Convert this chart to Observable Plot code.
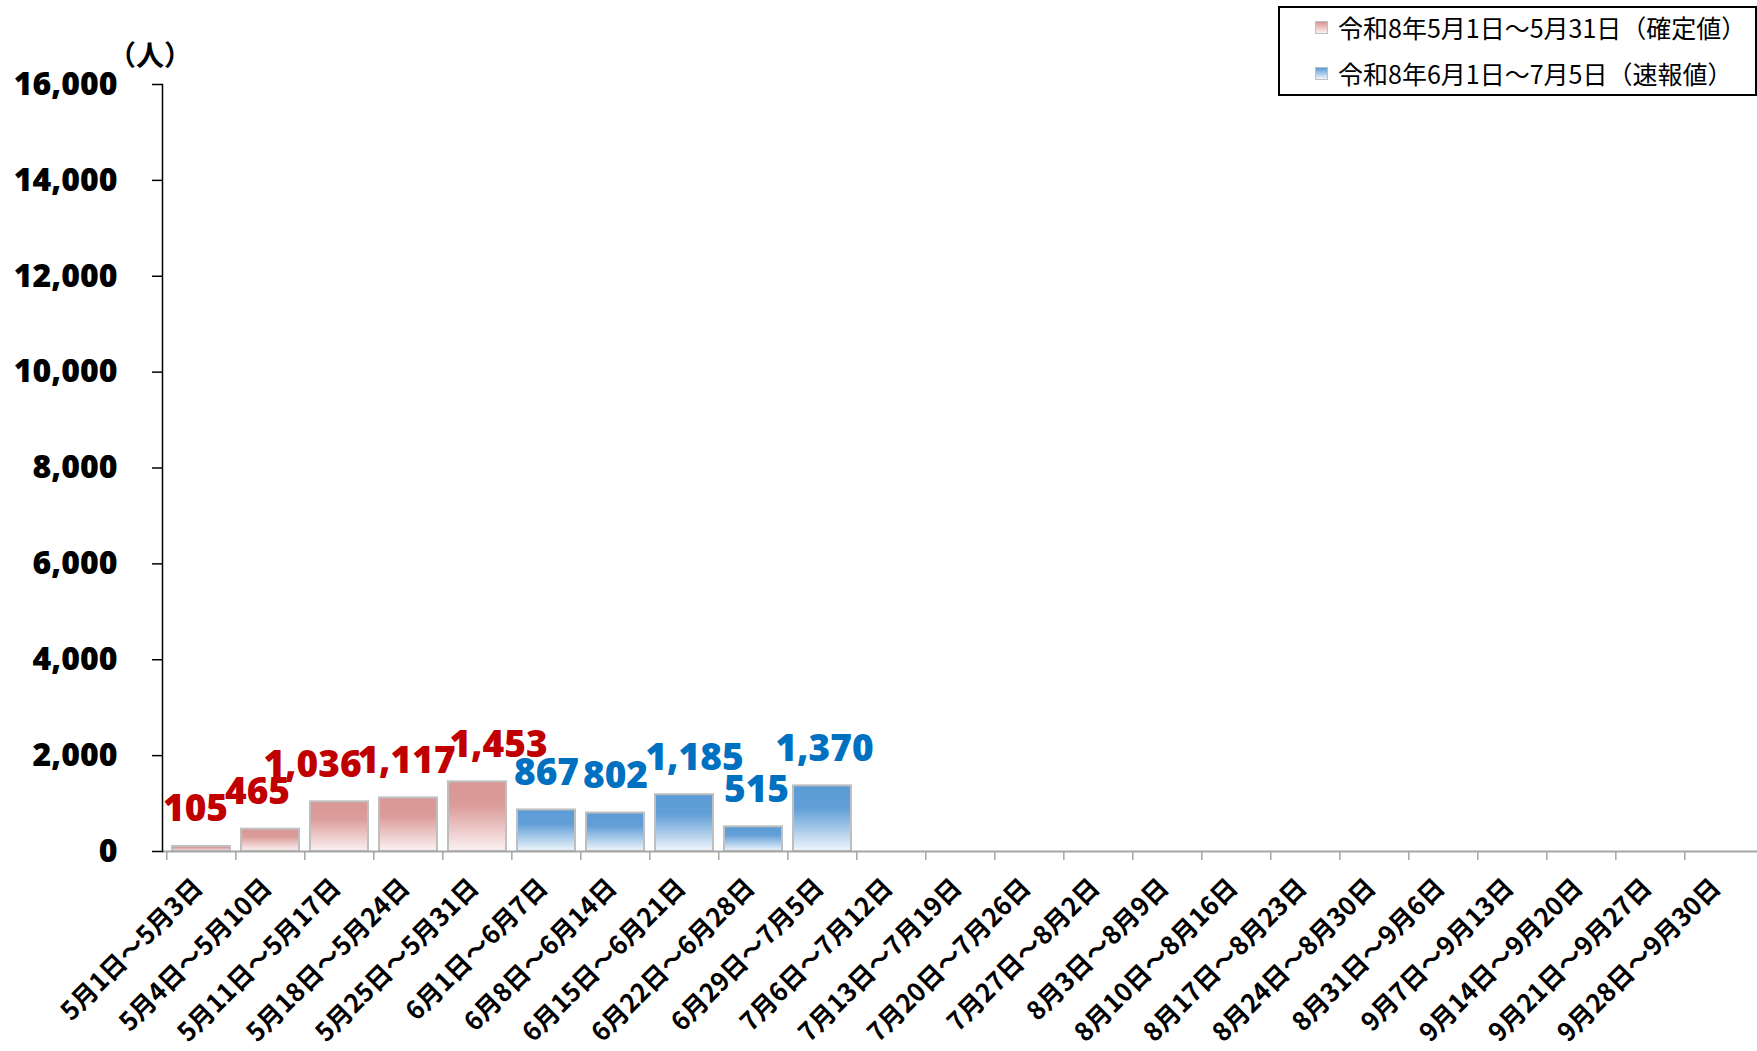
<!DOCTYPE html>
<html>
<head>
<meta charset="utf-8">
<script src="https://cdn.jsdelivr.net/npm/d3@7"></script>
<script src="https://cdn.jsdelivr.net/npm/@observablehq/plot@0.6"></script>
<style>
  body { margin: 0; background: #fff; }
  #wrap { position: relative; width: 1757px; height: 1051px; overflow: hidden; background: #fff; }
  #unit { position: absolute; left: 108px; top: 40px; font-family: "Noto Sans CJK JP", sans-serif; font-size: 28px; font-weight: bold; line-height: 1; color: #000; }
  #legend { position: absolute; left: 1278px; top: 6px; width: 479px; height: 90px; box-sizing: border-box; border: 2px solid #000; background: #fff; font-family: "Noto Sans CJK JP", sans-serif; font-size: 25px; color: #000; }
  .row { position: absolute; left: 35px; display: flex; align-items: center; height: 30px; white-space: nowrap; }
  .sw { width: 13px; height: 13px; margin-right: 10px; border: 1px solid #bfbfbf; box-sizing: border-box; flex: none; }
</style>
</head>
<body>
<div id="wrap">
  <div id="chart"></div>
  <div id="unit">（人）</div>
  <div id="legend"></div>
</div>
<script>
const categories = [
  "5月1日～5月3日", "5月4日～5月10日", "5月11日～5月17日", "5月18日～5月24日", "5月25日～5月31日",
  "6月1日～6月7日", "6月8日～6月14日", "6月15日～6月21日", "6月22日～6月28日", "6月29日～7月5日",
  "7月6日～7月12日", "7月13日～7月19日", "7月20日～7月26日", "7月27日～8月2日", "8月3日～8月9日",
  "8月10日～8月16日", "8月17日～8月23日", "8月24日～8月30日", "8月31日～9月6日", "9月7日～9月13日",
  "9月14日～9月20日", "9月21日～9月27日", "9月28日～9月30日"
];
const confirmedCategories = categories.slice(0, 5);
const confirmedValues = [105, 465, 1036, 1117, 1453];
const preliminaryCategories = categories.slice(5, 10);
const preliminaryValues = [867, 802, 1185, 515, 1370];
const seriesNames = ["令和8年5月1日～5月31日（確定値）", "令和8年6月1日～7月5日（速報値）"];
const seriesColors = ["#C00000", "#0070C0"];
const yTicks = [0, 2000, 4000, 6000, 8000, 10000, 12000, 14000, 16000];

// small horizontal nudges of the value labels, as placed in the original chart (pixels)
const confirmedLabelNudge = [-6, -13, -27, -2, 21];
const preliminaryLabelNudge = [0, 0, 10, 3, 2];

const confirmed = confirmedCategories.map((c, i) => ({cat: c, value: confirmedValues[i]}));
const preliminary = preliminaryCategories.map((c, i) => ({cat: c, value: preliminaryValues[i]}));

const W = 1757, H = 1051, ML = 162, MR = 0, MT = 84, MB = 200;
const step = (W - ML - MR) / categories.length;
const fmt = d3.format(",");

const defs = () => {
  const d = d3.create("svg:defs");
  const g1 = d.append("linearGradient").attr("id", "gradRed").attr("x1", 0).attr("y1", 0).attr("x2", 0).attr("y2", 1);
  g1.append("stop").attr("offset", "0%").attr("stop-color", "#D99694");
  g1.append("stop").attr("offset", "35%").attr("stop-color", "#DB9C9A");
  g1.append("stop").attr("offset", "100%").attr("stop-color", "#FBF2F2");
  const g2 = d.append("linearGradient").attr("id", "gradBlue").attr("x1", 0).attr("y1", 0).attr("x2", 0).attr("y2", 1);
  g2.append("stop").attr("offset", "0%").attr("stop-color", "#5B9BD5");
  g2.append("stop").attr("offset", "35%").attr("stop-color", "#629FD7");
  g2.append("stop").attr("offset", "100%").attr("stop-color", "#F0F6FC");
  return d.node();
};

const valueLabels = (data, nudges, color) => data.map((d, i) =>
  Plot.text([d], {x: "cat", y: "value", text: v => fmt(v.value), dx: nudges[i], dy: -25, lineAnchor: "bottom", fontSize: 37, fontWeight: 800, fill: color})
);

const chart = Plot.plot({
  width: W, height: H,
  marginLeft: ML, marginRight: MR, marginTop: MT, marginBottom: MB,
  style: {fontFamily: "'Open Sans', 'Noto Sans CJK JP', sans-serif", background: "#fff", color: "#000"},
  x: {type: "band", domain: categories, paddingInner: 0.16, paddingOuter: 0.08, axis: null},
  y: {domain: [0, 16000], axis: null},
  marks: [
    defs,
    Plot.barY(confirmed, {x: "cat", y: "value", fill: "url(#gradRed)", stroke: "#BFBFBF", strokeWidth: 2}),
    Plot.barY(preliminary, {x: "cat", y: "value", fill: "url(#gradBlue)", stroke: "#BFBFBF", strokeWidth: 2}),
    Plot.ruleY([0], {stroke: "#A6A6A6", strokeWidth: 2}),
    Plot.axisX({tickSize: 9, tickFormat: () => "", dx: -step / 2, stroke: "#A6A6A6", strokeWidth: 1.5, label: null}),
    Plot.frame({anchor: "left", stroke: "#000", strokeWidth: 1.5}),
    Plot.axisY({ticks: yTicks, tickSize: 10, tickPadding: 35, tickFormat: fmt, fontSize: 32, fontWeight: 800, label: null, stroke: "#000", strokeWidth: 1.5}),
    Plot.text(categories, {x: d => d, frameAnchor: "bottom", dx: -3, dy: 32, rotate: -45, textAnchor: "end", lineAnchor: "middle", fontSize: 25.5, fontWeight: "bold", fontFamily: "'Noto Sans CJK JP', sans-serif", fill: "#000"}),
    ...valueLabels(confirmed, confirmedLabelNudge, seriesColors[0]),
    ...valueLabels(preliminary, preliminaryLabelNudge, seriesColors[1])
  ]
});
document.getElementById("chart").appendChild(chart);

const legend = d3.select("#legend");
const grads = ["linear-gradient(#D99694, #FBF2F2)", "linear-gradient(#5B9BD5, #F0F6FC)"];
const rowTops = [4, 50];
seriesNames.forEach((name, i) => {
  const r = legend.append("div").attr("class", "row").style("top", rowTops[i] + "px");
  r.append("div").attr("class", "sw").style("background", grads[i]);
  r.append("span").text(name);
});
</script>
</body>
</html>
